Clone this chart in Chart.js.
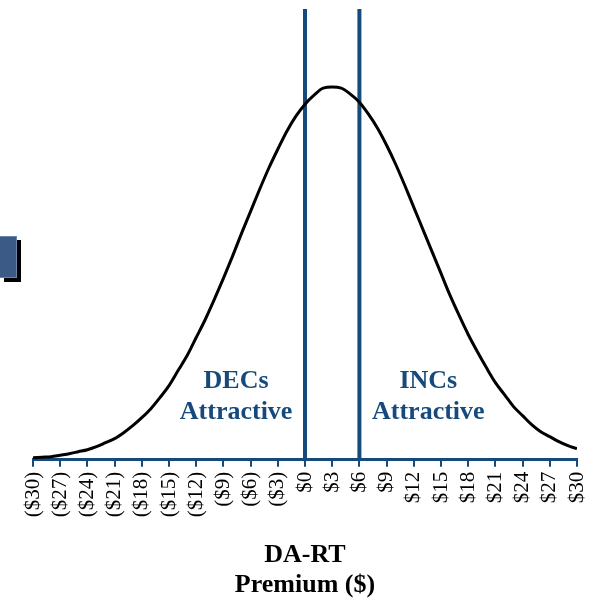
<!DOCTYPE html>
<html>
<head>
<meta charset="utf-8">
<script src="https://cdn.jsdelivr.net/npm/chart.js@4.4.1/dist/chart.umd.min.js"></script>
<style>
  html, body { margin: 0; padding: 0; background: #fff; }
  #wrap { position: relative; width: 599px; height: 602px; }
  #tab {
    position: absolute; left: 0; top: 236px; width: 16px; height: 40px;
    background: #3b5a86; border: 1px solid #6a86ad; border-left: none;
    box-shadow: 4px 4px 0 #000;
  }
</style>
</head>
<body>
<div id="wrap">
  <canvas id="myChart" width="599" height="602"></canvas>
  <div id="tab"></div>
</div>
<script>
// DA-RT premium ($) and curve height
var premium = [-30,-29,-28,-27,-26,-25,-24,-23,-22,-21,-20,-19,-18,-17,-16,-15,-14,-13,-12,-11,
               -10,-9,-8,-7,-6,-5,-4,-3,-2,-1,0,1,2,3,4,5,6,7,8,9,
               10,11,12,13,14,15,16,17,18,19,20,21,22,23,24,25,26,27,28,29,30]
var curveHeight = [2,2.5,3,4.5,6,8,10,13,17,21,27,34,42,51,62,74,89,104,122,140,
                   160,181,203,226,248,270,291,310,328,343,355,364,371,372,371,365,357,345,331,314,
                   295,274,252,230,208,186,164,144,125,108,92,77,65,53,44,35,28,23,18,14,11]
var thresholds = [0, 6]
var tickValues = [-30,-27,-24,-21,-18,-15,-12,-9,-6,-3,0,3,6,9,12,15,18,21,24,27,30]
var zoneLabels = [
    {x: -7.6, lines: ["DECs", "Attractive"]},
    {x: 13.6, lines: ["INCs", "Attractive"]}
]

var blue = "#174a7c"
var serif = "'Liberation Serif', 'Times New Roman', serif"

var curve = []
for (var i = 0; i < premium.length; i++) {
    curve.push({x: premium[i], y: curveHeight[i]})
}

var datasets = [{
    data: curve,
    borderColor: "#000",
    borderWidth: 3,
    pointRadius: 0,
    cubicInterpolationMode: "monotone",
    fill: false
}]
thresholds.forEach(function(t) {
    datasets.push({
        data: [{x: t, y: 0}, {x: t, y: 450}],
        borderColor: blue,
        borderWidth: 4,
        pointRadius: 0,
        fill: false
    })
})

var zoneText = {
    id: "zoneText",
    afterDatasetsDraw: function(chart) {
        var ctx = chart.ctx
        var xs = chart.scales.x, ys = chart.scales.y
        ctx.save()
        ctx.fillStyle = blue
        ctx.font = "bold 26px " + serif
        ctx.textAlign = "center"
        ctx.textBaseline = "alphabetic"
        zoneLabels.forEach(function(z) {
            var px = xs.getPixelForValue(z.x)
            ctx.fillText(z.lines[0], px, ys.getPixelForValue(72))
            ctx.fillText(z.lines[1], px, ys.getPixelForValue(41))
        })
        ctx.restore()
    }
}

var chart = new Chart(document.getElementById("myChart").getContext("2d"), {
    type: "line",
    data: { datasets: datasets },
    plugins: [zoneText],
    options: {
        responsive: false,
        animation: false,
        layout: { padding: { left: 33, right: 22, top: 9, bottom: 2 } },
        plugins: { legend: { display: false }, tooltip: { enabled: false } },
        scales: {
            x: {
                type: "linear",
                min: -30,
                max: 30,
                afterBuildTicks: function(scale) {
                    scale.ticks = tickValues.map(function(v) { return {value: v} })
                },
                afterFit: function(scale) {
                    scale.paddingLeft = 0
                    scale.paddingRight = 0
                },
                ticks: {
                    autoSkip: false,
                    minRotation: 90,
                    maxRotation: 90,
                    padding: 5,
                    color: "#000",
                    font: { family: serif, size: 21 },
                    callback: function(v) {
                        return v < 0 ? "($" + (-v) + ")" : "$" + v
                    }
                },
                grid: {
                    drawOnChartArea: false,
                    drawTicks: true,
                    tickLength: 7,
                    color: blue,
                    lineWidth: 2
                },
                border: { color: blue, width: 3 },
                title: {
                    display: true,
                    text: ["DA-RT", "Premium ($)"],
                    color: "#000",
                    font: { family: serif, size: 26, weight: "bold", lineHeight: 1.15 },
                    padding: { top: 18, bottom: 0 }
                }
            },
            y: {
                display: false,
                min: 0,
                max: 450
            }
        }
    }
})
</script>
</body>
</html>
